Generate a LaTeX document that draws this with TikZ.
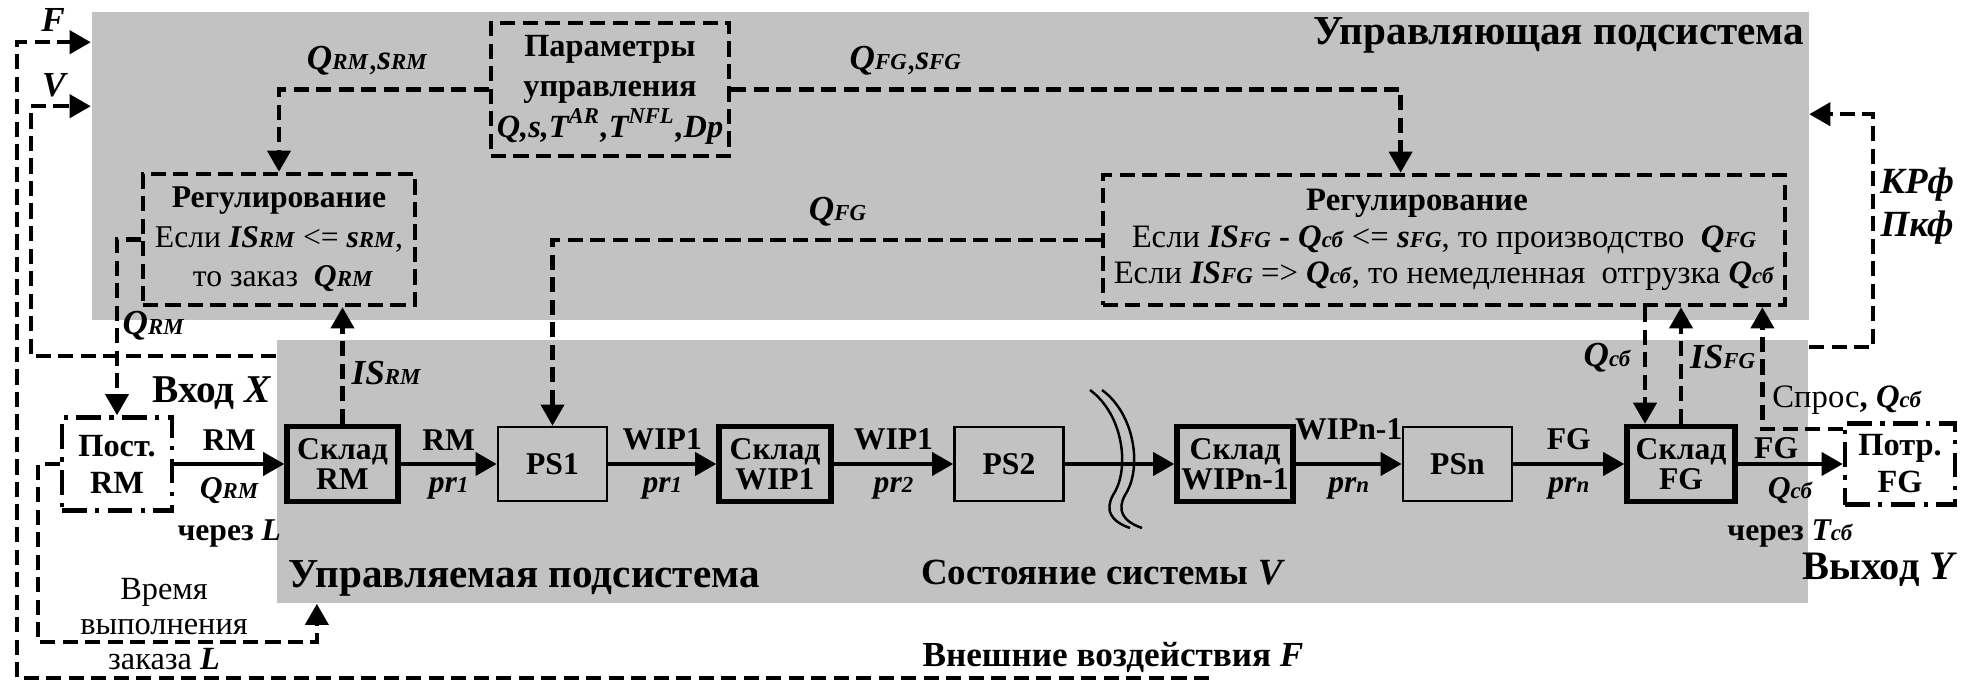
\documentclass[tikz,border=0pt]{standalone}
\usepackage{fontspec}
\setmainfont{Liberation Serif}
\usetikzlibrary{calc,positioning,arrows.meta}
\definecolor{panel}{RGB}{194,194,194}
% index text: bold italic symbol followed by a smaller part on the baseline
\newcommand{\ix}[2]{\textbf{\textit{#1{\fontsize{6.5}{7}\selectfont #2}}}}

\begin{document}
\begin{tikzpicture}[x=0.01cm,y=-0.01cm,
  sub/.style={fill=panel, draw=none, inner sep=0pt},
  box/.style={draw, dash pattern=on 4.3pt off 2.1pt, line width=1.25pt, inner sep=0pt, align=center},
  ext/.style={draw, dash pattern=on 7pt off 2.4pt on 1.2pt off 2.4pt, line width=1.25pt, inner sep=0pt,
    minimum width=1.1cm, align=center, font=\fontsize{9.2}{10.5}\selectfont\bfseries},
  store/.style={draw, fill=panel, line width=1.5pt, minimum height=0.75cm, inner sep=0pt, align=center,
    font=\fontsize{9}{8.6}\selectfont\bfseries},
  stage/.style={draw, fill=panel, line width=0.7pt, minimum width=1.09cm, minimum height=0.74cm, inner sep=0pt,
    font=\fontsize{9}{10}\selectfont\bfseries},
  flow/.style={line width=1.2pt, -{Triangle[length=6pt,width=6.5pt]}},
  info/.style={flow, line width=1.25pt, dash pattern=on 4.3pt off 2.1pt},
  lbl/.style={font=\fontsize{9}{10}\selectfont\bfseries},
  ttl/.style={font=\fontsize{11.7}{13}\selectfont\bfseries, inner sep=0pt},
  txt/.style={font=\fontsize{9}{11}\selectfont}]
  \useasboundingbox (0,0) rectangle (1975,682);

  % subsystems
  \node[sub, minimum width=17.16cm, minimum height=3.08cm] (ctrl) at (950,166) {};
  \node[sub, minimum width=15.31cm, minimum height=2.63cm] (plant) at (1042.5,471.5) {};
  \node[ttl, anchor=east] (tCtrl) at (1805,35) {Управляющая подсистема};
  \node[ttl, anchor=west] (tPlant) at (288,578) {Управляемая подсистема};
  \node[ttl, font=\fontsize{10.5}{12}\selectfont\bfseries] (tState) at (1103,573) {Состояние системы \textit{V}};
  \node[ttl, font=\fontsize{10}{12}\selectfont\bfseries] (tExt) at (1113,657) {Внешние воздействия \textit{F}};

  % control blocks
  \node[box, minimum width=2.38cm, minimum height=1.33cm, font=\fontsize{9.2}{11.5}\selectfont\bfseries] (par) at (610,89.5)
    {Параметры\\управления\\\textit{Q,s,T\textsuperscript{AR},T\textsuperscript{NFL},Dp}};
  \node[box, minimum width=2.72cm, minimum height=1.31cm, font=\fontsize{9}{11.2}\selectfont] (regRM) at (279,239.5)
    {\textbf{Регулирование}\\Если \ix{IS}{RM} <= \ix{s}{RM},\\\ то заказ\ \ \ix{Q}{RM}};
  \node[box, minimum width=6.82cm, minimum height=1.30cm, font=\fontsize{9.3}{10.4}\selectfont] (regFG) at (1444,240)
    {\textbf{Регулирование}\hspace*{0.54cm}\\Если \ix{IS}{FG} \textbf{-} \ix{Q}{сб} <= \ix{s}{FG}, то производство\ \ \ix{Q}{FG}\\
     Если \ix{IS}{FG} => \ix{Q}{сб}, то немедленная\ \ отгрузка \ix{Q}{сб}};

  % production chain
  \node[ext, minimum height=0.93cm] (post) at (117,464) {Пост.\\RM};
  \node[store, minimum width=1.11cm] (skRM) at (342.5,464) {Склад\\RM};
  \node[stage] (ps1) at (552.5,464) {PS1};
  \node[store, minimum width=1.12cm] (skW1) at (775,464) {Склад\\WIP1};
  \node[stage] (ps2) at (1009,464) {PS2};
  \node[store, minimum width=1.16cm] (skWn) at (1235,464) {Склад\\WIPn-1};
  \node[stage] (psn) at (1457.5,464) {PSn};
  \node[store, minimum width=1.08cm] (skFG) at (1681,464) {Склад\\FG};
  \node[ext, minimum height=0.81cm] (potr) at (1900,464) {Потр.\\FG};

  \draw[flow] (post.east) -- node[lbl,above](lRM0){RM} node[lbl,below](lQRMi){\ix{Q}{RM}} (skRM.west);
  \node[lbl, below=-3pt of lQRMi] (lviaL) {через \textit{L}};
  \draw[flow] (skRM.east) -- node[lbl,above](lRM1){RM} node[lbl,below](lpr1a){\ix{pr}{1}} (ps1.west);
  \draw[flow] (ps1.east) -- node[lbl,above](lW1a){WIP1} node[lbl,below](lpr1b){\ix{pr}{1}} (skW1.west);
  \draw[flow] (skW1.east) -- node[lbl,above](lW1b){WIP1} node[lbl,below](lpr2){\ix{pr}{2}} (ps2.west);
  \draw[flow] (ps2.east) -- (skWn.west);
  \draw[flow] (skWn.east) -- node[lbl,above,yshift=3pt](lWn){WIPn-1} node[lbl,below](lprn1){\ix{pr}{n}} (psn.west);
  \draw[flow] (psn.east) -- node[lbl,above](lFG0){FG} node[lbl,below](lprn2){\ix{pr}{n}} (skFG.west);
  \draw[flow] (skFG.east) -- node[lbl,above,inner sep=1pt,xshift=-4pt](lFG1){FG} node[lbl,below](lQsbo){\ix{Q}{сб}} (potr.west);
  \node[lbl, below=-3pt of lQsbo] (lviaT) {через \ix{T}{сб}};

  % break in the chain
  \foreach \dx in {0,12}
    \draw[line width=0.7pt] (1090+\dx,390) .. controls (1124+\dx,415) and (1130+\dx,470) .. (1113+\dx,495)
      .. controls (1105+\dx,510) and (1110+\dx,521) .. (1130+\dx,528);

  % information links
  \draw[info] (par.west) -| node[pos=0.29,above](lQsRM){\ix{Q}{RM},\ix{s}{RM}} (regRM.north);
  \draw[info] (par.east) -| node[pos=0.13,above](lQsFG){\ix{Q}{FG},\ix{s}{FG}} ($(regFG.north west)+(300,0)$);
  \draw[info] (regFG.west) -| node[pos=0.24,above](lQFG){\ix{Q}{FG}} (ps1.north);
  \draw[info] (regRM.west) -| node[pos=0.745,right,inner sep=1pt](lQRMo){\ix{Q}{RM}} (post.north);
  \draw[info] (skRM.north) -- node[pos=0.44,right,inner sep=2pt](lISRM){\ix{IS}{RM}} (skRM.north |- regRM.south);
  \coordinate (qsbIn) at ($(skFG.north)+(-36,0)$);
  \draw[info] (qsbIn |- regFG.south) -- node[pos=0.43,left](lQsb){\ix{Q}{сб}} (qsbIn);
  \draw[info] (skFG.north) -- node[pos=0.57,right,inner sep=2pt](lISFG){\ix{IS}{FG}} (skFG.north |- regFG.south);
  \draw[info] ($(potr.north west)+(0,8)$) -| ($(regFG.south east)+(-25,0)$);
  \node[txt, font=\fontsize{9.3}{11}\selectfont] (lDemand) at (1847,400) {Спрос\textbf{,} \ix{Q}{сб}};

  % feedback and external signals
  \draw[info] ($(plant.north east)+(0,8)$) -- ++(64,0) |- ($(ctrl.north east)+(0,103)$);
  \node[lbl, font=\fontsize{10.5}{12}\selectfont\bfseries] (lKR) at (1917,185) {\textit{КРф}};
  \node[lbl, font=\fontsize{10.5}{12}\selectfont\bfseries] (lPK) at (1917,228) {\textit{Пкф}};
  \draw[info] ($(plant.north west)+(0,17)$) -- ++(-245,0) |- ($(ctrl.north west)+(0,95)$);
  \coordinate (fEnd) at (1209,678);
  \draw[info] (fEnd) -- ++(-1192,0) |- ($(ctrl.north west)+(0,31)$);
  \node[lbl, font=\fontsize{10}{12}\selectfont\bfseries] (lF) at (53,20) {\textit{F}};
  \node[lbl, font=\fontsize{10}{12}\selectfont\bfseries] (lV) at (55,85) {\textit{V}};
  \draw[info] (post.west) -- ++(-22,0) -- ++(0,178) -| ($(plant.south west)+(41,0)$);
  \node[txt, align=center, font=\fontsize{9.2}{10}\selectfont] (lLead) at (164,624) {Время\\выполнения\\заказа \textbf{\textit{L}}};

  \node[ttl, font=\fontsize{11.2}{12}\selectfont\bfseries] (tIn) at (212,393) {Вход \textit{X}};
  \node[ttl, font=\fontsize{11.5}{12}\selectfont\bfseries] (tOut) at (1880,570) {Выход \textit{Y}};
\end{tikzpicture}
\end{document}
